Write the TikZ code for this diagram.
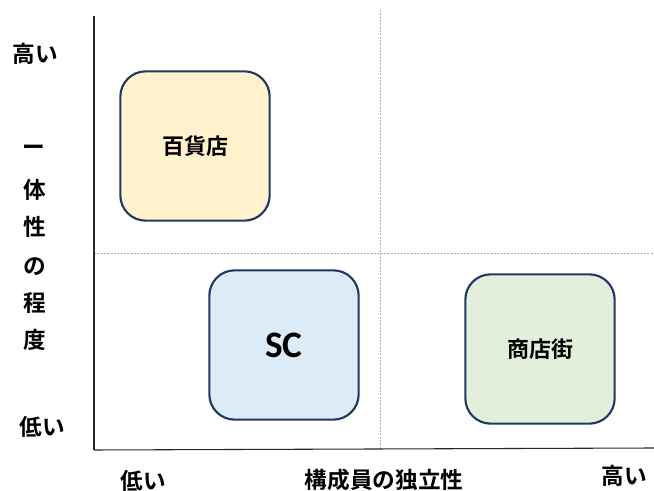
\documentclass[tikz,border=0pt]{standalone}
\usepackage{fontspec}
\newfontfamily\jp{Noto Sans CJK JP}[BoldFont={* Bold}]
\newfontfamily\lat{Carlito}
\definecolor{navy}{HTML}{1F3864}
\definecolor{fyel}{HTML}{FFF2CC}
\definecolor{fblu}{HTML}{DDEBF7}
\definecolor{fgrn}{HTML}{E2EFDA}
\begin{document}
\begin{tikzpicture}[x=0.75pt,y=-0.75pt,
  quad/.style={draw=navy,line width=1.6pt,rounded corners=19pt,minimum width=112pt,minimum height=112pt,inner sep=0pt},
  lbl/.style={font=\jp\bfseries\fontsize{17}{20}\selectfont,inner sep=0pt},
  axis/.style={draw=black!85,line width=0.8pt},
  grid/.style={draw=black!30,dashed,dash pattern=on 1.5pt off 1pt,line width=0.5pt}]
\useasboundingbox (0,0) rectangle (654,491);
\coordinate (o) at (94,450);
\coordinate (yt) at (94,16);
\coordinate (xr) at (654,448);
\coordinate (vt) at (380,10);
\coordinate (vb) at (380,450);
\coordinate (hl) at (94,253);
\coordinate (hr) at (654,253);
\draw[grid] (vt) -- (vb);
\draw[grid] (hl) -- (hr);
\draw[axis] (yt) -- (o);
\draw[axis] (o) -- (xr);
\node[quad,fill=fyel,font=\jp\bfseries\fontsize{16.5}{20}\selectfont] (dept) at (195,146) {百貨店};
\node[quad,fill=fblu,font=\lat\bfseries\fontsize{28}{32}\selectfont] (sc) at (284,345) {SC};
\node[quad,fill=fgrn,font=\jp\bfseries\fontsize{16.5}{20}\selectfont] (shop) at (540,349) {商店街};
\node[lbl] (yhi) at (35,54) {高い};
\node[lbl] (y1) at (34,150) {ー};
\node[lbl] (y2) at (35,190) {体};
\node[lbl] (y3) at (35,227) {性};
\node[lbl] (y4) at (35,267) {の};
\node[lbl] (y5) at (35,303) {程};
\node[lbl] (y6) at (35,340) {度};
\node[lbl] (ylo) at (42,427) {低い};
\node[lbl] (xlo) at (143,481) {低い};
\node[lbl] (xt) at (384,480) {構成員の独立性};
\node[lbl] (xhi) at (624,476) {高い};
\end{tikzpicture}
\end{document}
